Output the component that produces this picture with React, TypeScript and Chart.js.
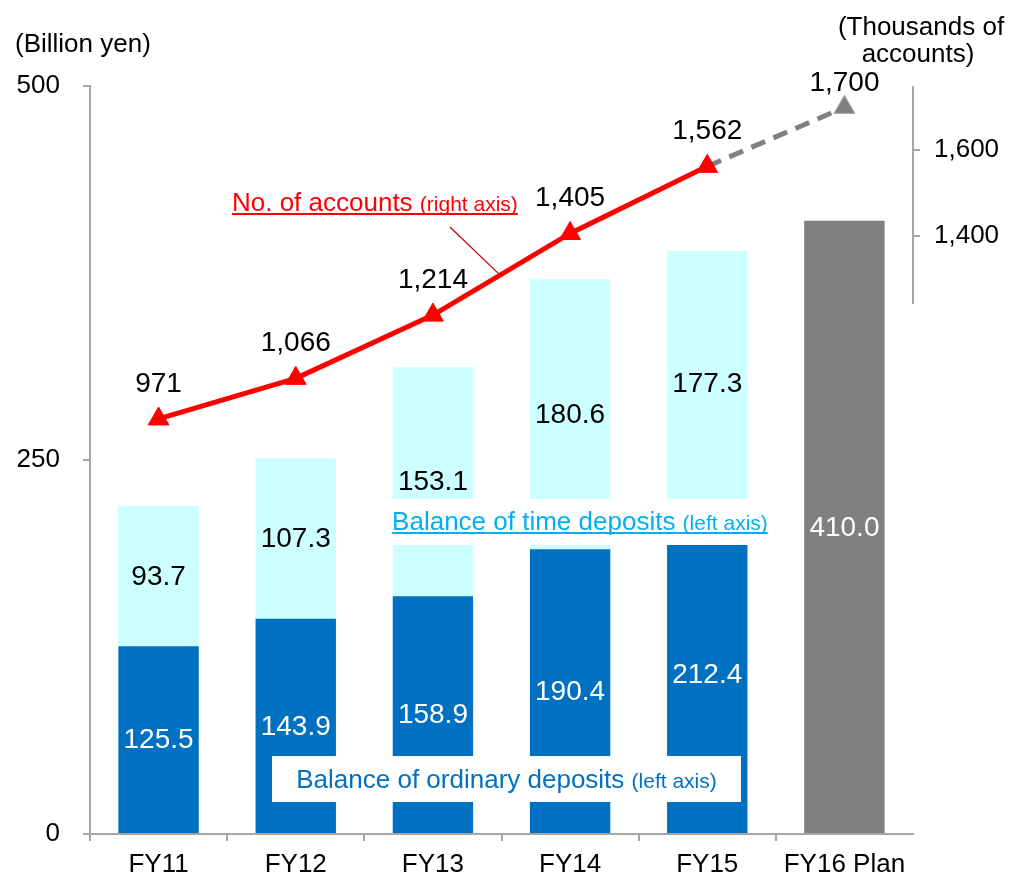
import React, { useEffect, useRef } from 'react';
import { Chart, registerables } from 'chart.js';

Chart.register(...registerables);

// ---- data ----
const categories = ['FY11', 'FY12', 'FY13', 'FY14', 'FY15', 'FY16 Plan'];
const ordinaryDeposits = [125.5, 143.9, 158.9, 190.4, 212.4, null];
const timeDeposits = [93.7, 107.3, 153.1, 180.6, 177.3, null];
const planTotal = [null, null, null, null, null, 410.0];
const accounts = [971, 1066, 1214, 1405, 1562, 1700];
const leftTicks = [0, 250, 500];
const rightTicks = [1400, 1600];

// ---- styles ----
const FONT = '"Liberation Sans", Arial, sans-serif';
const AXIS = '#A6A6A6';
const DARK_BLUE = '#0070C0';
const CYAN = '#CCFFFF';
const GRAY = '#808080';
const RED = '#FF0000';
const LIGHT_BLUE = '#00B0F0';
const accountLabelLift = [27, 27, 27, 27, 27, 16];

function drawTwoPart(
  ctx: CanvasRenderingContext2D,
  main: string,
  small: string,
  color: string,
  x: number,
  baseline: number,
  align: 'left' | 'center',
  underline: boolean
) {
  ctx.font = `26px ${FONT}`;
  const w1 = ctx.measureText(main + ' ').width;
  ctx.font = `21px ${FONT}`;
  const w2 = ctx.measureText(small).width;
  const total = w1 + w2;
  const start = align === 'center' ? x - total / 2 : x;
  ctx.fillStyle = color;
  ctx.textAlign = 'left';
  ctx.textBaseline = 'alphabetic';
  ctx.font = `26px ${FONT}`;
  ctx.fillText(main + ' ', start, baseline);
  ctx.font = `21px ${FONT}`;
  ctx.fillText(small, start + w1, baseline);
  if (underline) {
    ctx.strokeStyle = color;
    ctx.lineWidth = 2;
    ctx.beginPath();
    ctx.moveTo(start, baseline + 3);
    ctx.lineTo(start + total, baseline + 3);
    ctx.stroke();
  }
}

const overlayPlugin = {
  id: 'overlay',
  afterDatasetsDraw(chart: any) {
    const { ctx, chartArea, scales } = chart;
    const xs = scales.x;
    const ys = scales.y;
    const y2 = scales.y2;
    ctx.save();

    // partial right axis line
    ctx.strokeStyle = AXIS;
    ctx.lineWidth = 2;
    ctx.beginPath();
    ctx.moveTo(chartArea.right, y2.getPixelForValue(1240));
    ctx.lineTo(chartArea.right, chartArea.top);
    ctx.stroke();

    // white label boxes
    ctx.fillStyle = '#FFFFFF';
    const b1x0 = xs.getPixelForValue(1.643);
    const b1x1 = xs.getPixelForValue(4.501);
    const b1y0 = ys.getPixelForValue(224);
    const b1y1 = ys.getPixelForValue(193.2);
    ctx.fillRect(b1x0, b1y0, b1x1 - b1x0, b1y1 - b1y0);
    const b2x0 = xs.getPixelForValue(0.827);
    const b2x1 = xs.getPixelForValue(4.246);
    const b2y0 = ys.getPixelForValue(52.1);
    const b2y1 = ys.getPixelForValue(21.4);
    ctx.fillRect(b2x0, b2y0, b2x1 - b2x0, b2y1 - b2y0);

    drawTwoPart(ctx, 'Balance of time deposits', '(left axis)', LIGHT_BLUE,
      (b1x0 + b1x1) / 2, (b1y0 + b1y1) / 2 + 8, 'center', true);
    drawTwoPart(ctx, 'Balance of ordinary deposits', '(left axis)', DARK_BLUE,
      (b2x0 + b2x1) / 2, (b2y0 + b2y1) / 2 + 9, 'center', false);

    // accounts annotation + leader
    drawTwoPart(ctx, 'No. of accounts', '(right axis)', RED,
      xs.getPixelForValue(0.535), y2.getPixelForValue(1457.7), 'left', true);
    ctx.strokeStyle = '#C00000';
    ctx.lineWidth = 1.2;
    ctx.beginPath();
    ctx.moveTo(xs.getPixelForValue(2.124), y2.getPixelForValue(1420));
    ctx.lineTo(xs.getPixelForValue(2.49), y2.getPixelForValue(1307.6));
    ctx.stroke();

    // bar value labels
    ctx.font = `28px ${FONT}`;
    ctx.textAlign = 'center';
    ctx.textBaseline = 'middle';
    const barColors: Record<number, string> = { 1: '#FFFFFF', 2: '#000000', 3: '#FFFFFF' };
    [1, 2, 3].forEach((di) => {
      const meta = chart.getDatasetMeta(di);
      const data = chart.data.datasets[di].data;
      meta.data.forEach((el: any, i: number) => {
        const v = data[i];
        if (v === null || v === undefined) return;
        ctx.fillStyle = barColors[di];
        ctx.fillText(Number(v).toFixed(1), el.x, (el.y + el.base) / 2 + 1);
      });
    });

    // line value labels
    ctx.fillStyle = '#000000';
    ctx.textBaseline = 'alphabetic';
    const lmeta = chart.getDatasetMeta(0);
    lmeta.data.forEach((el: any, i: number) => {
      ctx.fillText(accounts[i].toLocaleString('en-US'), el.x, el.y - accountLabelLift[i]);
    });

    ctx.restore();
  },
  afterDraw(chart: any) {
    const { ctx, chartArea } = chart;
    ctx.save();
    ctx.fillStyle = '#000000';
    ctx.font = `26px ${FONT}`;
    ctx.textBaseline = 'alphabetic';
    ctx.textAlign = 'left';
    ctx.fillText('(Billion yen)', 15, chartArea.top - 34);
    ctx.textAlign = 'center';
    ctx.fillText('(Thousands of', 921, chartArea.top - 51);
    ctx.fillText('accounts)', 918, chartArea.top - 24);
    ctx.restore();
  },
};

export default function App() {
  const canvasRef = useRef<HTMLCanvasElement | null>(null);

  useEffect(() => {
    const canvas = canvasRef.current;
    if (!canvas) return;
    const n = categories.length;
    const chart = new Chart(canvas, {
      type: 'bar',
      data: {
        labels: categories,
        datasets: [
          {
            type: 'line',
            label: 'No. of accounts',
            data: accounts,
            yAxisID: 'y2',
            order: 0,
            borderColor: RED,
            borderWidth: 5,
            tension: 0,
            fill: false,
            pointStyle: 'triangle',
            pointRadius: 12,
            pointHoverRadius: 12,
            pointBackgroundColor: accounts.map((_, i) => (i === n - 1 ? GRAY : RED)),
            pointBorderColor: accounts.map((_, i) => (i === n - 1 ? '#A6A6A6' : RED)),
            pointBorderWidth: 1,
            segment: {
              borderColor: (c: any) => (c.p1DataIndex === n - 1 ? GRAY : RED),
              borderDash: (c: any) => (c.p1DataIndex === n - 1 ? [15, 9] : []),
            },
          } as any,
          {
            type: 'bar',
            label: 'Balance of ordinary deposits',
            data: ordinaryDeposits,
            yAxisID: 'y',
            stack: 's',
            order: 1,
            backgroundColor: DARK_BLUE,
            barPercentage: 1,
            categoryPercentage: 0.586,
          },
          {
            type: 'bar',
            label: 'Balance of time deposits',
            data: timeDeposits,
            yAxisID: 'y',
            stack: 's',
            order: 1,
            backgroundColor: CYAN,
            barPercentage: 1,
            categoryPercentage: 0.586,
          },
          {
            type: 'bar',
            label: 'Plan',
            data: planTotal,
            yAxisID: 'y',
            stack: 's',
            order: 1,
            backgroundColor: GRAY,
            barPercentage: 1,
            categoryPercentage: 0.586,
          },
        ],
      },
      options: {
        animation: false,
        responsive: false,
        devicePixelRatio: 1,
        layout: { padding: { top: 86, left: 0, right: 0, bottom: 0 } },
        plugins: {
          legend: { display: false },
          tooltip: { enabled: false },
          title: { display: false },
        },
        scales: {
          x: {
            stacked: true,
            offset: true,
            grid: {
              offset: true,
              drawOnChartArea: false,
              drawTicks: true,
              tickLength: 7,
              lineWidth: 2,
              color: (c: any) => (c.type === 'tick' ? AXIS : 'rgba(0,0,0,0)'),
            },
            border: { display: true, color: AXIS, width: 2 },
            ticks: { color: '#000000', font: { family: FONT, size: 26 }, padding: 8, maxRotation: 0, autoSkip: false },
            afterFit: (s: any) => { s.height = 45; },
          },
          y: {
            type: 'linear',
            position: 'left',
            stacked: true,
            min: 0,
            max: 500,
            afterBuildTicks: (s: any) => { s.ticks = leftTicks.map((v) => ({ value: v })); },
            grid: { drawOnChartArea: false, drawTicks: true, tickLength: 7, lineWidth: 2, color: AXIS },
            border: { display: true, color: AXIS, width: 2 },
            ticks: { color: '#000000', font: { family: FONT, size: 26 }, padding: 23 },
            afterFit: (s: any) => { s.width = 90; },
          },
          y2: {
            type: 'linear',
            position: 'right',
            min: 0,
            max: 1750,
            afterBuildTicks: (s: any) => { s.ticks = rightTicks.map((v) => ({ value: v })); },
            grid: { drawOnChartArea: false, drawTicks: true, tickLength: 7, lineWidth: 2, color: AXIS },
            border: { display: false },
            ticks: {
              color: '#000000',
              font: { family: FONT, size: 26 },
              padding: 14,
              callback: (v: any) => Number(v).toLocaleString('en-US'),
            },
            afterFit: (s: any) => { s.width = 96; },
          },
        },
      } as any,
      plugins: [overlayPlugin],
    });
    return () => chart.destroy();
  }, []);

  return (
    <div style={{ position: 'absolute', left: 0, top: 0, width: 1009, height: 879, background: '#FFFFFF' }}>
      <canvas ref={canvasRef} width={1009} height={879} />
    </div>
  );
}
